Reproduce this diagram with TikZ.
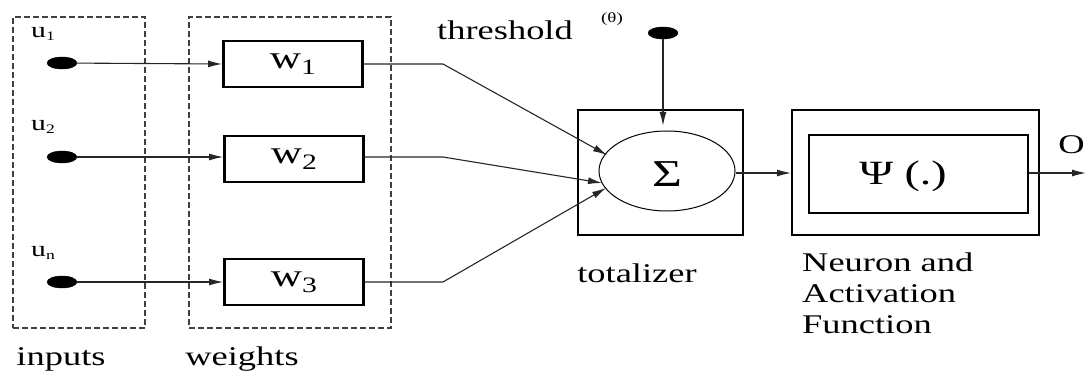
\documentclass[tikz,border=0pt]{standalone}
\usepackage{fontspec}
\setmainfont{Liberation Serif}
\usetikzlibrary{arrows.meta,shapes.geometric}
\newcommand{\sx}[1]{\scalebox{1.35}[1]{#1}}
\tikzset{
  dot/.style={ellipse,fill=black,draw=black,minimum width=30pt,minimum height=12pt,inner sep=0pt},
  dashbox/.style={draw=black!75,dashed,line width=1.8pt,dash pattern=on 6pt off 3pt,minimum width=#1,inner sep=0pt},
  wbox/.style={draw,line width=2.8pt,minimum width=139pt,minimum height=46pt,inner sep=0pt,font=\fontsize{32}{32}\selectfont},
  frame/.style={draw,line width=2pt,inner sep=0pt},
  conn/.style={line width=1.1pt,draw=black!85},
  arr/.style={conn,-{Latex[length=14pt,width=7pt]}},
  lbl/.style={font=\fontsize{27}{31}\selectfont,inner sep=0pt},
  small/.style={font=\fontsize{22}{22}\selectfont,inner sep=0pt}
}
\begin{document}
\begin{tikzpicture}[x=1pt,y=-1pt]
\useasboundingbox (0,0) rectangle (1086,374);
% dashed groups
\node[dashbox=132pt,minimum height=311pt] (inbox) at (79,172.5) {};
\node[dashbox=202pt,minimum height=311pt] (wtbox) at (290,172.5) {};
% input labels
\node[small] (u1) at (43,34) {\sx{u\raisebox{-3pt}{\fontsize{13}{13}\selectfont 1}}};
\node[small] (u2) at (43,127) {\sx{u\raisebox{-3pt}{\fontsize{13}{13}\selectfont 2}}};
\node[small] (un) at (43,253) {\sx{u\raisebox{-3pt}{\fontsize{13}{13}\selectfont n}}};
% input dots
\node[dot] (d1) at (62,63) {};
\node[dot] (d2) at (62,157) {};
\node[dot] (d3) at (62,282) {};
% weights
\node[wbox] (w1) at (293,64) {\sx{w\raisebox{-6pt}{\fontsize{22}{22}\selectfont 1}}};
\node[wbox] (w2) at (294,159) {\sx{w\raisebox{-6pt}{\fontsize{22}{22}\selectfont 2}}};
\node[wbox] (w3) at (294,282) {\sx{w\raisebox{-6pt}{\fontsize{22}{22}\selectfont 3}}};
\draw[arr] (d1) -- (w1.west);
\draw[arr] (d2) -- (w2.west |- d2);
\draw[arr] (d3) -- (w3.west |- d3);
% totalizer
\node[frame,minimum width=165pt,minimum height=125pt] (tot) at (660.5,172.5) {};
\node[draw,line width=1pt,ellipse,minimum width=136pt,minimum height=80pt,inner sep=0pt] (sig) at (667,171) {};
\node[font=\fontsize{38}{38}\selectfont,inner sep=0pt] (sgl) at (667,174) {\sx{Σ}};
\coordinate (k1) at (443,64);
\coordinate (k2) at (443,157);
\coordinate (k3) at (443,282);
\coordinate (t1) at (607,155);
\coordinate (t2) at (602,183);
\coordinate (t3) at (606,188);
\draw[arr] (w1.east |- k1) -- (k1) -- (t1);
\draw[arr] (w2.east |- k2) -- (k2) -- (t2);
\draw[arr] (w3.east |- k3) -- (k3) -- (t3);
% threshold
\node[lbl] (thr) at (505,30) {\sx{threshold}};
\node[inner sep=0pt,font=\fontsize{14}{14}\selectfont] (theta) at (612,19) {\sx{(θ)}};
\node[dot] (td) at (663,33) {};
\draw[arr,line width=1.5pt] (td) -- (td |- 0,126);
\node[lbl] (totl) at (637,273) {\sx{totalizer}};
% neuron
\node[frame,minimum width=247pt,minimum height=125pt] (nout) at (915.5,172.5) {};
\node[frame,minimum width=219pt,minimum height=78pt] (nin) at (918.5,174) {};
\node[font=\fontsize{34}{34}\selectfont,inner sep=0pt] (psi) at (903,176) {\sx{Ψ (.)}};
\draw[arr] (sig.east |- 0,173) -- (nout.west |- 0,173);
\coordinate (out) at (1086,173);
\draw[arr] (nin.east |- out) -- (out);
\node[lbl,anchor=east] (o) at (1085,145) {\sx{O}};
\node[lbl,anchor=north west,align=left] (nl) at (802,253) {\sx{Neuron and}\\\sx{Activation}\\\sx{Function}};
% bottom labels
\node[lbl] (inl) at (61,359) {\sx{inputs}};
\node[lbl] (wl) at (242,359) {\sx{weights}};
\end{tikzpicture}
\end{document}
